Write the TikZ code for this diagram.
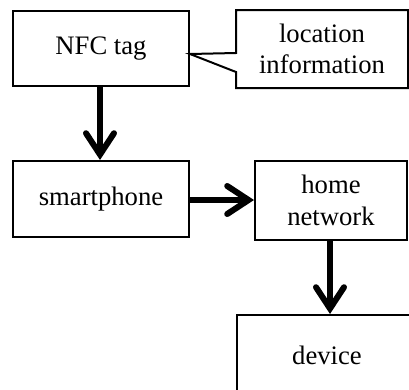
\documentclass[tikz,border=0pt]{standalone}
\usepackage{fontspec}
\setmainfont{Liberation Serif}
\usetikzlibrary{arrows.meta,calc}
\tikzset{
  box/.style={draw, line width=1.5pt, rectangle, inner sep=0pt, align=center,
    font=\fontsize{20}{23.5}\selectfont},
  flow/.style={line width=4.5pt, -{Straight Barb[length=16pt,width=21pt,line cap=round,line join=miter]}},
}
\begin{document}
\begin{tikzpicture}[x=0.75pt,y=-0.75pt]
\useasboundingbox (0,0) rectangle (409,389);
\clip (0,0) rectangle (409,389);
\node[box, minimum width=132pt, minimum height=56.25pt] (nfc) at (101,48.5) {NFC tag};
\node[box, draw=none, minimum width=127.5pt, minimum height=57pt] (loc) at (322,49) {location\\information};
\draw[line width=1.5pt, line join=miter] (loc.west |- 0,53) -- (loc.north west) -- (loc.north east) -- (loc.south east) -- (loc.south west) -- (loc.west |- 0,72) -- (nfc.east |- 0,54) -- cycle;
\node[box, minimum width=132pt, minimum height=57pt] (sp) at (101,199) {smartphone};
\node[box, minimum width=114pt, minimum height=59.25pt] (hn) at (331,200.5) {home\\network};
\node[box, minimum width=135pt, minimum height=60pt] (dev) at (327,355) {device};
\draw[flow] (nfc.south -| 100,0) -- (sp.north -| 100,0);
\draw[flow] (sp.east |- 0,200) -- (hn.west |- 0,200);
\draw[flow] (hn.south -| 330,0) -- (dev.north -| 330,0);
\end{tikzpicture}
\end{document}
